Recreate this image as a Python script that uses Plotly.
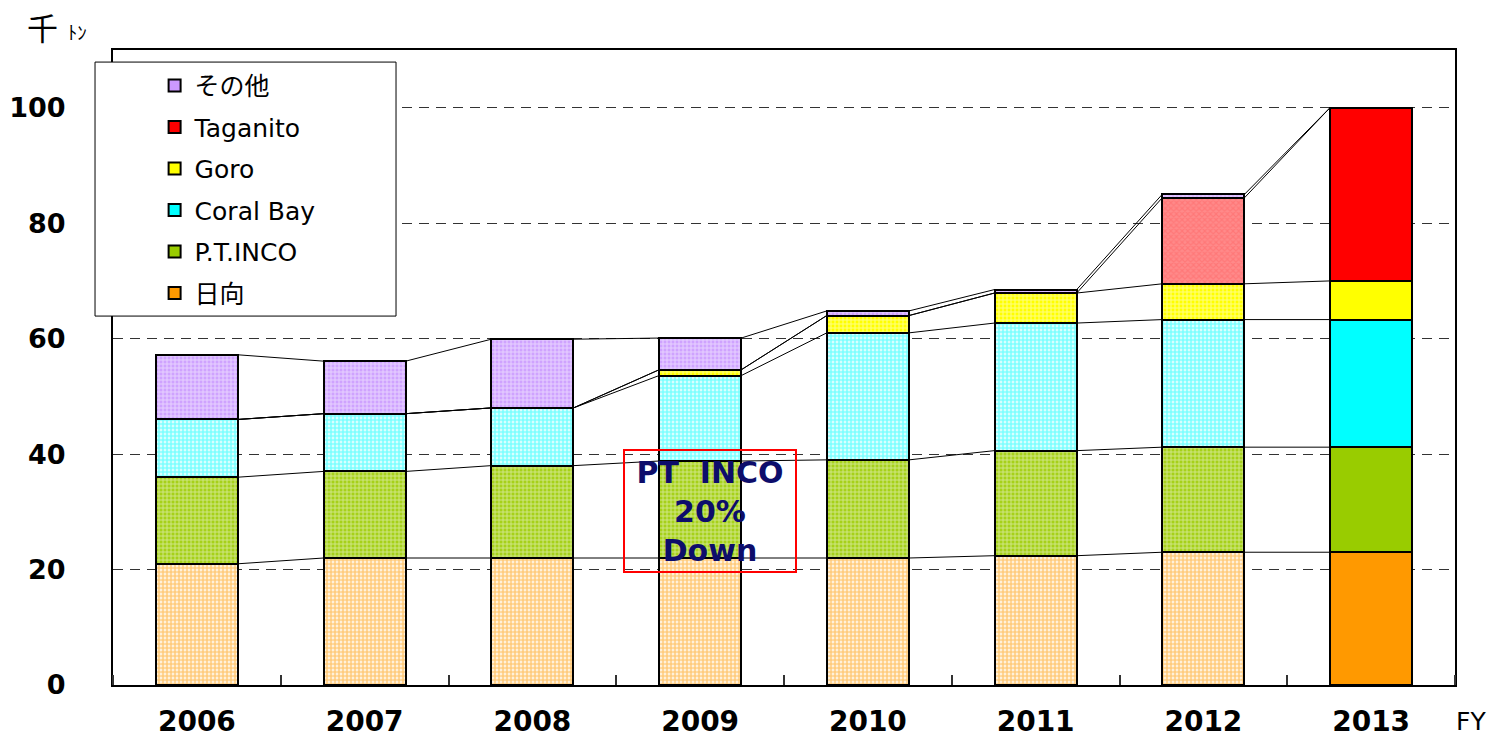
import plotly.graph_objects as go
import numpy as np

# 年度別ニッケル生産量（千トン）— グラフから読み取った値
years = ["2006", "2007", "2008", "2009", "2010", "2011", "2012", "2013"]
hyuga = [21.0, 22.0, 22.0, 22.0, 22.0, 22.4, 23.0, 23.0]
pt_inco = [15.0, 15.0, 16.0, 16.8, 17.0, 18.2, 18.2, 18.2]
coral_bay = [10.0, 10.0, 10.0, 14.8, 22.0, 22.1, 22.1, 22.1]
goro = [0.0, 0.0, 0.0, 1.0, 3.0, 5.2, 6.2, 6.7]
taganito = [0.0, 0.0, 0.0, 0.0, 0.0, 0.0, 14.9, 30.0]
others = [11.2, 9.1, 11.9, 5.5, 0.8, 0.6, 0.6, 0.0]
y_ticks = [0, 20, 40, 60, 80, 100]

# 2013年は計画値なので塗りつぶし、それ以前は網掛け
is_actual = [True] * 7 + [False]

FONT = "DejaVu Sans, Noto Sans CJK JP, sans-serif"

# (名前, 値, 色, パターン形, 前景色, 背景色, 密度)
series = [
    ("日向", hyuga, "#FF9900", ".", "#FF9900", "white", 0.72),
    ("P.T.INCO", pt_inco, "#99CC00", "+", "white", "#A6D11A", 0.4),
    ("Coral Bay", coral_bay, "#00FFFF", ".", "#00FFFF", "white", 0.75),
    ("Goro", goro, "#FFFF00", "+", "white", "#FFFF00", 0.45),
    ("Taganito", taganito, "#FF0000", "x", "#FF6666", "#FF8A8A", 0.5),
    ("その他", others, "#CC99FF", "+", "white", "#CFA3FF", 0.45),
]

x = np.arange(len(years))
bar_w = 0.49

fig = go.Figure()

for name, vals, color, shape, fg, bg, sol in series:
    fig.add_trace(go.Bar(
        x=x, y=vals, width=bar_w, name=name, showlegend=False,
        marker=dict(
            color=color,
            line=dict(color="black", width=2.5),
            pattern=dict(shape=[shape if a else "" for a in is_actual],
                         fgcolor=fg, bgcolor=bg, size=4, solidity=sol),
        ),
        hoverinfo="skip",
    ))

# 凡例用（塗りつぶしの見本）— 上から その他 … 日向
for name, vals, color, *_ in series[::-1]:
    fig.add_trace(go.Bar(
        x=[None], y=[None], name=name, legendgroup=name,
        marker=dict(color=color, line=dict(color="black", width=2)),
    ))

# 積み上げの境界をつなぐ線
cum = np.cumsum(np.array([s[1] for s in series]), axis=0)
for level in cum:
    xs, ys = [], []
    for i in range(len(years) - 1):
        xs += [x[i] + bar_w / 2, x[i + 1] - bar_w / 2, None]
        ys += [level[i], level[i + 1], None]
    fig.add_trace(go.Scatter(x=xs, y=ys, mode="lines", showlegend=False,
                             line=dict(color="black", width=1), hoverinfo="skip"))

# 凡例の枠
fig.add_shape(type="rect", xref="paper", yref="paper",
              x0=-0.0134, x1=0.2109, y0=0.581, y1=0.981,
              fillcolor="white", line=dict(color="black", width=1), layer="above")

fig.add_annotation(x=3.056, y=30.2, text="PT&nbsp; INCO<br>20%<br>Down",
                   showarrow=False, width=170, height=120, borderpad=0,
                   bordercolor="#FF0000", borderwidth=2,
                   font=dict(family=FONT, size=30, color="#0D0D6B", weight="bold"))
fig.add_annotation(xref="paper", yref="paper", x=-0.0655, y=1.064,
                   xanchor="left", yanchor="top", showarrow=False,
                   text="千&nbsp;<span style='font-size:19px'>ﾄﾝ</span>",
                   font=dict(family=FONT, size=31, color="black"))
fig.add_annotation(xref="paper", yref="paper", x=0.999, y=-0.058,
                   xanchor="left", yanchor="middle", showarrow=False,
                   text="FY", font=dict(family=FONT, size=25, color="black"))

fig.update_layout(
    width=1504, height=730,
    margin=dict(l=105, r=57, t=42, b=53),
    paper_bgcolor="white", plot_bgcolor="white",
    barmode="stack", bargap=0,
    font=dict(family=FONT, color="black"),
    legend=dict(x=0.031, y=0.98, xanchor="left", yanchor="top",
                traceorder="grouped", tracegroupgap=6,
                bgcolor="rgba(0,0,0,0)", borderwidth=0,
                font=dict(family=FONT, size=25)),
    xaxis=dict(range=[-0.5, 7.5], tickvals=x, ticktext=years, ticks="",
               showgrid=False, zeroline=False, automargin=False,
               showline=True, linecolor="black", linewidth=2, mirror=True,
               ticklabelstandoff=10,
               tickfont=dict(family=FONT, size=28, weight="bold"),
               minor=dict(tick0=0.5, dtick=1, ticks="inside", ticklen=10,
                          tickwidth=1.5, tickcolor="#333")),
    yaxis=dict(range=[0, 110], tickvals=y_ticks, ticks="",
               showgrid=True, gridcolor="#333", gridwidth=1.2, griddash="10px,7px",
               zeroline=False, showline=True, linecolor="black", linewidth=2,
               mirror=True, ticklabelstandoff=40, automargin=False,
               tickfont=dict(family=FONT, size=27, weight="bold")),
)

fig.write_html("out.html")
